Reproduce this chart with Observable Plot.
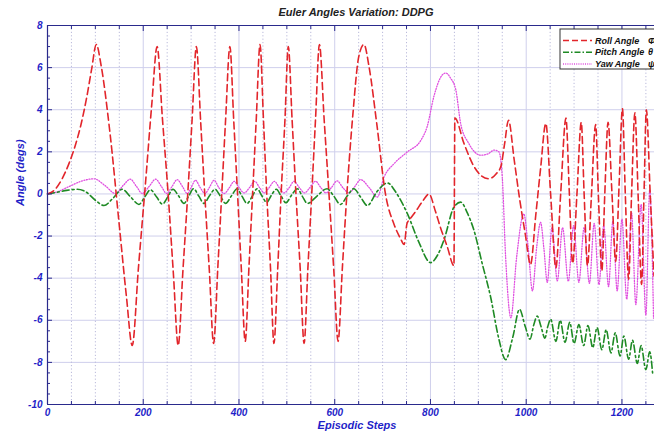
<!DOCTYPE html>
<html><head><meta charset="utf-8">
<script src="https://cdn.jsdelivr.net/npm/d3@7"></script>
<script src="https://cdn.jsdelivr.net/npm/@observablehq/plot@0.6"></script>
<style>html,body{margin:0;padding:0;background:#fff;} svg{display:block;}</style>
</head><body><div id="chart"></div>
<script>
// ---- data ----
const titleText = "Euler Angles Variation: DDPG";
const xLabel = "Episodic Steps";
const yLabel = "Angle (degs)";
const seriesNames = ["Roll Angle", "Pitch Angle", "Yaw Angle"];
const seriesSymbols = ["Φ", "θ", "ψ"];
const xTicks = [0, 200, 400, 600, 800, 1000, 1200];
const yTicks = [-10, -8, -6, -4, -2, 0, 2, 4, 6, 8];

const rollSteps = [0,15,30,45,58,70,82,92,102,112,130,150,165,177,190,205,218,229,240,252,263,273,283,293,302,311,320,329,338,347,356,364,372,381,389,397,405,413,421,428,436,444,451,458,466,473,481,488,496,503,511,519,528,536,544,552,560,568,578,588,598,607,616,626,638,650,661,672,688,706,724,737,745,751,757,770,785,797,810,821,835,849,851,870,891,907,922,937,947,955,963,975,986,998,1009,1020,1030,1041,1051,1062,1072,1083,1090,1097,1106,1115,1121,1128,1136,1145,1151,1158,1164,1171,1179,1187,1194,1201,1207,1214,1220,1227,1234,1241,1246,1251,1259,1267];
const rollValues = [0,0.2,0.7,1.45,2.3,3.3,4.6,5.9,7.1,6.1,3.0,-1.5,-4.9,-7.2,-3.5,0.6,4.3,7.0,3.6,0.0,-3.8,-7.2,-3.6,0.0,3.5,7.0,3.4,-0.2,-3.6,-7.1,-3.4,0.0,3.5,7.0,3.5,0.0,-3.6,-7.0,-3.4,-0.2,3.5,7.1,3.6,0.0,-3.6,-7.1,-3.5,0.0,3.5,7.0,3.5,0.0,-3.6,-7.1,-3.5,0.0,3.6,7.1,3.5,0.0,-3.6,-7.0,-3.5,0.2,3.8,6.5,7.1,6.0,3.3,0.0,-1.45,-2.1,-2.4,-1.4,-1.2,-0.8,-0.3,0.0,-0.8,-1.6,-2.5,-3.4,3.6,2.4,1.3,0.85,0.72,0.95,1.3,2.4,3.5,1.6,-0.2,-1.9,-3.35,-1.0,1.2,3.35,0.0,-3.5,0.0,3.6,0.1,-3.3,0.0,3.4,0.0,-3.4,-0.2,3.3,-0.2,-3.65,-0.1,3.4,0.1,-3.2,0.4,4.05,0.0,-4.05,-0.1,3.85,-0.2,-4.3,-0.1,4.0,0.0,-3.9];

const pitchSteps = [0,20,40,62,80,100,118,137,156,174,191,203,215,228,240,251,262,274,285,295,305,316,327,338,350,361,372,384,396,406,417,428,438,448,458,468,478,488,498,510,522,532,543,563,584,598,612,626,640,654,668,688,710,730,752,776,800,815,828,849,863,877,891,908,926,942,957,972,986,998,1008,1016,1023,1031,1039,1045,1051,1062,1071,1081,1091,1100,1110,1120,1129,1139,1148,1158,1167,1177,1186,1196,1204,1214,1222,1232,1240,1250,1258,1264];
const pitchValues = [0,0.08,0.17,0.22,0.1,-0.3,-0.55,-0.2,0.22,-0.15,-0.5,-0.15,0.2,-0.15,-0.48,-0.15,0.22,-0.1,-0.45,-0.1,0.25,-0.1,-0.45,-0.1,0.22,-0.1,-0.45,-0.1,0.25,-0.1,-0.45,-0.1,0.25,-0.1,-0.4,-0.05,0.22,-0.1,-0.42,-0.05,0.25,-0.1,-0.45,-0.1,0.25,-0.1,-0.5,-0.1,0.25,-0.15,-0.55,0.1,0.52,0.0,-0.95,-2.3,-3.26,-2.9,-2.2,-0.63,-0.39,-0.9,-1.74,-3.3,-4.93,-6.8,-7.87,-6.8,-5.48,-6.3,-6.9,-6.2,-5.8,-6.3,-6.85,-6.3,-5.95,-7.0,-6.0,-7.05,-6.1,-7.1,-6.2,-7.2,-6.25,-7.3,-6.35,-7.4,-6.45,-7.55,-6.6,-7.7,-6.75,-7.85,-6.95,-8.05,-7.2,-8.35,-7.5,-8.5];

const yawSteps = [0,20,45,70,97,120,142,158,173,186,198,212,226,238,249,260,271,282,292,300,309,319,329,338,348,358,369,380,390,400,411,422,433,443,453,463,474,484,494,505,515,526,537,548,560,571,582,593,605,617,630,642,654,672,689,703,724,752,780,793,807,825,832,842,853,863,880,905,920,933,943,950,957,968,980,995,1004,1013,1022,1030,1037,1044,1054,1065,1076,1088,1099,1110,1121,1132,1142,1152,1162,1172,1181,1190,1200,1210,1220,1229,1240,1250,1258,1266];
const yawValues = [0,0.1,0.35,0.6,0.72,0.4,0.02,0.4,0.7,0.35,0.02,0.35,0.7,0.35,0.02,0.35,0.68,0.35,0.02,0.3,0.65,0.3,0.02,0.3,0.65,0.3,0.02,0.3,0.6,0.3,0.05,0.3,0.6,0.3,0.05,0.3,0.6,0.3,0.05,0.3,0.6,0.3,0.05,0.3,0.6,0.3,0.05,0.3,0.62,0.3,0.05,0.35,0.68,0.3,-0.15,0.8,1.44,2.0,2.55,3.19,4.62,5.66,5.74,5.5,4.94,3.35,2.4,1.84,1.9,2.08,2.0,0.8,-3.0,-5.88,-3.0,-0.95,-2.5,-4.6,-2.5,-1.35,-2.6,-4.2,-1.6,-4.13,-1.6,-4.15,-1.5,-4.2,-1.6,-4.25,-1.4,-4.3,-1.5,-4.4,-1.3,-4.6,-1.2,-5.0,-0.9,-5.25,-0.5,-5.75,0.2,-5.9];

// ---- styles ----
const navy = "#2a2a8c";
const blue = "#1f1fc8";
const font = "Liberation Sans, Arial, sans-serif";
const rollColor = "#e2252b", pitchColor = "#1e8a24", yawColor = "#e050e0";
const rollDash = "7,4", pitchDash = "7,3,2,3", yawDash = "1,1.6";

const rows = (xs, ys) => xs.map((x, i) => ({step: x, angle: ys[i]}));
const roll = rows(rollSteps, rollValues);
const pitch = rows(pitchSteps, pitchValues);
const yaw = rows(yawSteps, yawValues);

const xMinor = d3.range(50, 1268, 50).filter(v => v % 200 !== 0);
const yMinor = d3.range(-10, 8.001, 0.5).filter(v => Math.abs(v % 2) !== 0);
const labelStyle = {fill: blue, fontSize: 10, fontWeight: "bold", fontStyle: "italic", fontFamily: font};

const svg = Plot.plot({
  width: 654, height: 432,
  marginLeft: 47, marginRight: 0, marginTop: 25, marginBottom: 28,
  style: {fontFamily: font, background: "#fff"},
  x: {domain: [0, 1268], axis: null},
  y: {domain: [-10, 8], axis: null},
  marks: [
    Plot.gridY(yTicks.filter(v => v > -10 && v < 8), {stroke: "#cfcfec", strokeOpacity: 1}),
    Plot.gridX(xMinor, {stroke: "#b9b9da", strokeOpacity: 1, strokeDasharray: "1.2,2.2"}),
    Plot.gridX(xTicks.filter(v => v > 0), {stroke: "#cfcfec", strokeOpacity: 1}),
    Plot.line(yaw, {x: "step", y: "angle", stroke: yawColor, strokeWidth: 1.3, strokeDasharray: yawDash, curve: "monotone-x"}),
    Plot.line(pitch, {x: "step", y: "angle", stroke: pitchColor, strokeWidth: 1.6, strokeDasharray: pitchDash, curve: "monotone-x"}),
    Plot.line(roll, {x: "step", y: "angle", stroke: rollColor, strokeWidth: 1.6, strokeDasharray: rollDash, curve: "monotone-x"}),
    Plot.ruleX([0], {stroke: navy, strokeWidth: 1.2}),
    Plot.ruleY([8], {stroke: navy, strokeWidth: 1.2}),
    Plot.ruleY([-10], {stroke: navy, strokeWidth: 1.2}),
    Plot.axisX(xTicks, {anchor: "bottom", tickSize: -5, stroke: navy, tickFormat: () => "", label: null}),
    Plot.axisX(xMinor, {anchor: "bottom", tickSize: -3, stroke: navy, tickFormat: () => "", label: null}),
    Plot.axisX(xTicks, {anchor: "top", tickSize: -5, stroke: navy, tickFormat: () => "", label: null}),
    Plot.axisX(xMinor, {anchor: "top", tickSize: -3, stroke: navy, tickFormat: () => "", label: null}),
    Plot.axisY(yTicks, {anchor: "left", tickSize: -5, stroke: navy, tickFormat: () => "", label: null}),
    Plot.axisY(yMinor, {anchor: "left", tickSize: -3, stroke: navy, tickFormat: () => "", label: null}),
    Plot.axisX(xTicks, {anchor: "bottom", tickSize: 0, tickPadding: 4, label: null, tickFormat: d => String(d), ...labelStyle}),
    Plot.axisY(yTicks, {anchor: "left", tickSize: 0, tickPadding: 5, label: null, tickFormat: d => String(d), ...labelStyle}),
    Plot.text([titleText], {text: d => d, frameAnchor: "top", dy: -13, dx: 5, lineAnchor: "middle", fill: "#222", fontSize: 11, fontWeight: "bold", fontStyle: "italic", fontFamily: font}),
    Plot.text([xLabel], {text: d => d, frameAnchor: "bottom", dy: 21, dx: 6, lineAnchor: "middle", fill: blue, fontSize: 11, fontWeight: "bold", fontStyle: "italic", fontFamily: font}),
    Plot.text([yLabel], {text: d => d, frameAnchor: "left", dx: -27, dy: -9, rotate: -90, lineAnchor: "middle", fill: blue, fontSize: 11, fontWeight: "bold", fontStyle: "italic", fontFamily: font})
  ]
});

// ---- legend (top-right box) ----
const lg = d3.select(svg).append("g").attr("font-family", font).attr("text-anchor", "start");
lg.append("rect").attr("x", 560).attr("y", 29).attr("width", 110).attr("height", 40)
  .attr("fill", "#fff").attr("stroke", "#333").attr("stroke-width", 1);
const legendColors = [rollColor, pitchColor, yawColor];
const legendDash = ["6,3", "6,2,1.5,2", "1,1.2"];
seriesNames.forEach((name, i) => {
  const y = 40.5 + i * 11.7;
  lg.append("line").attr("x1", 563).attr("x2", 592).attr("y1", y).attr("y2", y)
    .attr("stroke", legendColors[i]).attr("stroke-width", 1.5).attr("stroke-dasharray", legendDash[i]);
  lg.append("text").attr("x", 595).attr("y", y).attr("dy", "0.35em").attr("text-anchor", "start")
    .attr("font-size", 9).attr("font-weight", "bold").attr("font-style", "italic").attr("fill", "#111").text(name);
  lg.append("text").attr("x", 648).attr("y", y).attr("dy", "0.35em").attr("text-anchor", "start")
    .attr("font-size", 9).attr("font-weight", "bold").attr("font-style", "italic").attr("fill", "#111").text(seriesSymbols[i]);
});

document.getElementById("chart").appendChild(svg);
</script>
</body></html>
